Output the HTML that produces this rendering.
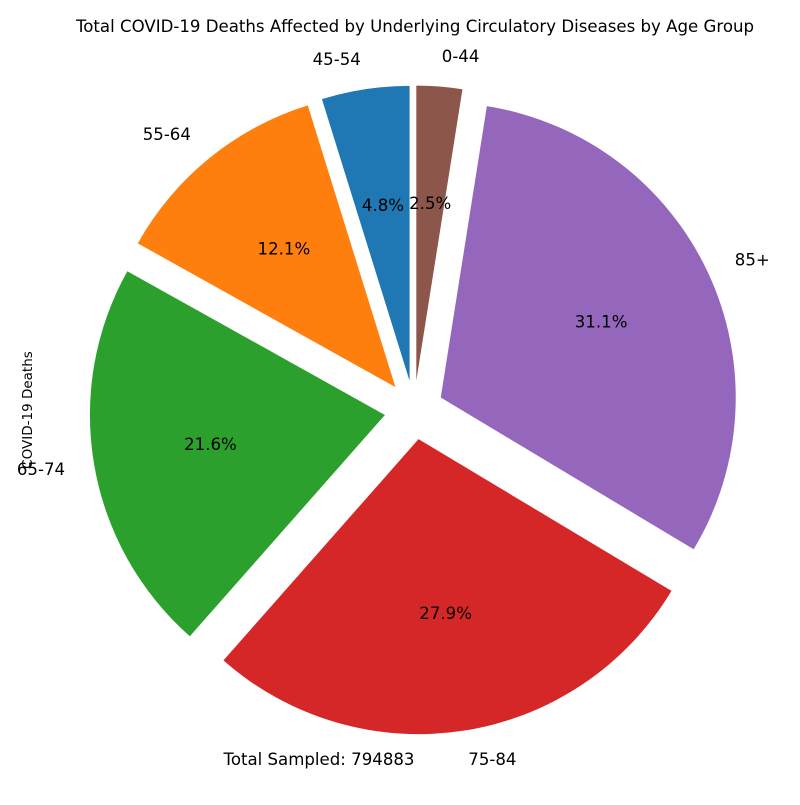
<!DOCTYPE html>
<html><head><meta charset="utf-8"><style>
body{margin:0;background:#fff}
svg text{font-family:"DejaVu Sans","Liberation Sans",sans-serif;fill:#000}
</style></head><body>
<svg id="chart" width="800" height="800" viewBox="0 0 800 800" xmlns="http://www.w3.org/2000/svg">
<rect width="800" height="800" fill="#fff"/>
<text x="415" y="32" font-size="16.6" text-anchor="middle">Total COVID-19 Deaths Affected by Underlying Circulatory Diseases by Age Group</text>
<text transform="translate(32,410) rotate(-90)" font-size="13.5" text-anchor="middle">COVID-19 Deaths</text>
<text x="319" y="765" font-size="16.6" text-anchor="middle">Total Sampled: 794883</text>
<g id="slices"></g>
</svg>
<script>
const categories = ["45-54","55-64","65-74","75-84","85+","0-44"];
const values = [4.8, 12.1, 21.6, 27.9, 31.1, 2.5];
const colors = ["#1f77b4","#ff7f0e","#2ca02c","#d62728","#9467bd","#8c564b"];
const cx = 414, cy = 410, r = 295, explode = 0.1;
const g = document.getElementById('slices');
const NS = "http://www.w3.org/2000/svg";
const total = values.reduce((a,b)=>a+b,0);
let ang = 90;
function pt(x,y,rad,deg){const t=deg*Math.PI/180;return [x+rad*Math.cos(t), y-rad*Math.sin(t)];}
values.forEach((v,i)=>{
  const sweep = v/total*360;
  const a0 = ang, a1 = ang+sweep, mid = (a0+a1)/2;
  const [ox,oy] = pt(cx,cy,explode*r,mid);
  const [x0,y0] = pt(ox,oy,r,a0);
  const [x1,y1] = pt(ox,oy,r,a1);
  const large = sweep>180?1:0;
  const p = document.createElementNS(NS,'path');
  p.setAttribute('d',`M${ox},${oy} L${x0},${y0} A${r},${r} 0 ${large} 0 ${x1},${y1} Z`);
  p.setAttribute('fill',colors[i]);
  
  
  g.appendChild(p);
  const [lx,ly] = pt(ox,oy,1.1*r,mid);
  const lt = document.createElementNS(NS,'text');
  lt.setAttribute('x',lx); lt.setAttribute('y',ly+5);
  lt.setAttribute('font-size','16.6');
  lt.setAttribute('text-anchor', lx>=ox ? 'start':'end');
  lt.textContent = categories[i];
  
  
  g.appendChild(lt);
  const [px,py] = pt(ox,oy,0.6*r,mid);
  const pc = document.createElementNS(NS,'text');
  pc.setAttribute('x',px); pc.setAttribute('y',py+5);
  pc.setAttribute('font-size','16.6');
  pc.setAttribute('text-anchor','middle');
  pc.textContent = (v/total*100).toFixed(1)+'%';
  
  
  g.appendChild(pc);
  ang = a1;
});
</script>
</body></html>
